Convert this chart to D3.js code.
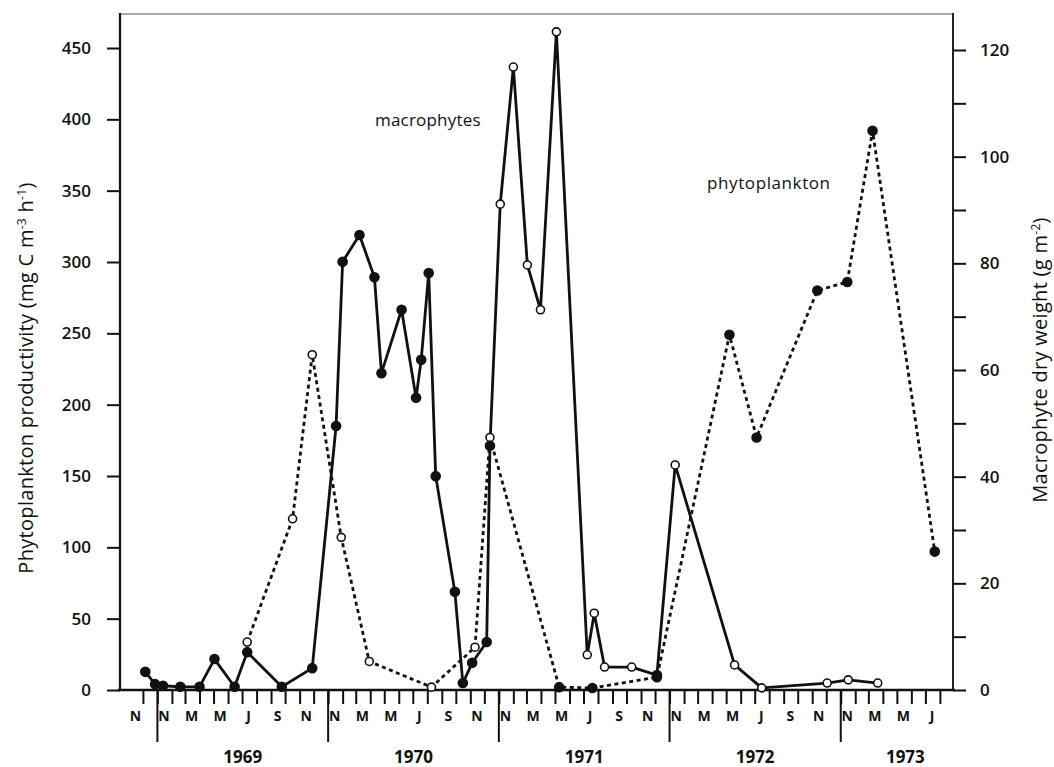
<!DOCTYPE html>
<meta charset="utf-8">
<script src="https://cdn.jsdelivr.net/npm/d3@7"></script>
<style>
  body { margin: 0; background: #fff; }
  text { font-family: "Open Sans", "Noto Sans", sans-serif; fill: #111; }
</style>
<div id="chart"></div>
<script>
// macrophyte dry weight (g m-2), right axis, solid line
var macroDates = ["1968-12-06","1968-12-27","1969-01-13","1969-02-19","1969-04-01","1969-05-03","1969-06-15","1969-07-12",
  "1969-09-24","1969-11-28","1970-01-18","1970-02-01","1970-03-09","1970-04-10","1970-04-25","1970-06-07","1970-07-08",
  "1970-07-19","1970-08-04","1970-08-19","1970-09-29","1970-10-16","1970-11-05","1970-12-06","1970-12-13","1971-01-04",
  "1971-02-01","1971-03-03","1971-03-31","1971-05-04","1971-07-09","1971-07-24","1971-08-15","1971-10-12","1971-12-05",
  "1972-01-13","1972-05-19","1972-07-16","1972-12-03","1973-01-17","1973-03-21"];
var macroValues = [3.4, 1.1, 0.8, 0.6, 0.6, 5.8, 0.6, 7.1,
  0.6, 4.1, 49.5, 80.3, 85.3, 77.4, 59.4, 71.3, 54.8,
  61.9, 78.2, 40.1, 18.4, 1.3, 5.1, 9.0, 45.8, 91.1,
  116.8, 79.7, 71.3, 123.4, 6.6, 14.4, 4.3, 4.3, 2.8,
  42.2, 4.7, 0.4, 1.3, 1.9, 1.3];
var macroMarks = ["f","f","f","f","f","f","f","f",
  "f","f","f","f","f","f","f","f","f",
  "f","f","f","f","f","f","f","f","o",
  "o","o","o","o","o","o","o","o","f",
  "o","o","o","o","o","o"];

// phytoplankton productivity (mg C m-3 h-1), left axis, dashed line
var phytoDates = ["1969-07-12","1969-10-17","1969-11-28","1970-01-29","1970-03-30","1970-08-10","1970-11-11","1970-12-13",
  "1971-05-10","1971-07-20","1971-12-05","1972-05-08","1972-07-05","1972-11-12","1973-01-15","1973-03-10","1973-07-21"];
var phytoValues = [33.6, 120, 235, 107, 20, 2, 30, 177, 2, 1.4, 9, 249, 177, 280, 286, 392, 97];
var phytoMarks = ["o","o","o","o","o","o","o","o","f","f","f","f","f","f","f","f","f"];

var leftTicks = [0, 50, 100, 150, 200, 250, 300, 350, 400, 450];
var rightTicks = [0, 10, 20, 30, 40, 50, 60, 70, 80, 90, 100, 110, 120];
var monthLetters = ["N", "", "M", "", "M", "", "J", "", "S", "", "N", ""];
var years = [1969, 1970, 1971, 1972, 1973];

var W = 1054, H = 767;
var svg = d3.select("#chart").append("svg").attr("width", W).attr("height", H);

var parse = d3.timeParse("%Y-%m-%d");
var start = new Date(1968, 9, 13), end = new Date(1973, 7, 29);
var x = d3.scaleTime().domain([start, end]).range([120, 953]);
var yL = d3.scaleLinear().domain([0, 450]).range([690, 48]);
var yR = d3.scaleLinear().domain([0, 120]).range([690, 50]);

// frame
svg.append("line").attr("x1", 120).attr("x2", 953).attr("y1", 14).attr("y2", 14)
  .attr("stroke", "#555").attr("stroke-width", 1.2);
svg.append("line").attr("x1", 120).attr("x2", 120).attr("y1", 13).attr("y2", 691)
  .attr("stroke", "#111").attr("stroke-width", 2.2);
svg.append("line").attr("x1", 953).attr("x2", 953).attr("y1", 13).attr("y2", 691)
  .attr("stroke", "#222").attr("stroke-width", 2);
svg.append("line").attr("x1", 118).attr("x2", 955).attr("y1", 690).attr("y2", 690)
  .attr("stroke", "#111").attr("stroke-width", 2.4);

// left axis
var gl = svg.append("g").attr("transform", "translate(120,0)")
  .call(d3.axisLeft(yL).tickValues(leftTicks).tickSize(13).tickPadding(16));
gl.select(".domain").remove();
gl.selectAll(".tick line").attr("stroke", "#111").attr("stroke-width", 2);
gl.selectAll(".tick text").style("font-size", "17px").style("font-weight", "600")
  .style("font-family", "Open Sans").attr("fill", "#111");

// right axis
var gr = svg.append("g").attr("transform", "translate(953,0)")
  .call(d3.axisRight(yR).tickValues(rightTicks).tickSize(13).tickPadding(14)
    .tickFormat(function(d) { return d % 20 === 0 ? d : ""; }));
gr.select(".domain").remove();
gr.selectAll(".tick line").attr("stroke", "#111").attr("stroke-width", 2);
gr.selectAll(".tick text").style("font-size", "17px").style("font-weight", "600")
  .style("font-family", "Open Sans").attr("fill", "#111");

// bottom axis: month ticks
var monthTicks = d3.timeMonth.range(new Date(1968, 11, 1), new Date(1973, 7, 2));
var gb = svg.append("g").attr("transform", "translate(0,690)")
  .call(d3.axisBottom(x).tickValues(monthTicks).tickSize(14).tickFormat(""));
gb.select(".domain").remove();
gb.selectAll(".tick line").attr("stroke", "#111").attr("stroke-width", 2);

// year separators
svg.selectAll(".sep").data(years).enter().append("line")
  .attr("x1", function(d) { return x(new Date(d, 0, 1)); })
  .attr("x2", function(d) { return x(new Date(d, 0, 1)); })
  .attr("y1", 690).attr("y2", 742)
  .attr("stroke", "#111").attr("stroke-width", 2);

// month letters at mid-month
var labelMonths = d3.timeMonth.range(new Date(1968, 10, 1), new Date(1973, 7, 1))
  .filter(function(d) { return monthLetters[d.getMonth()] !== ""; });
svg.selectAll(".mlab").data(labelMonths).enter().append("text")
  .attr("x", function(d) { return x(new Date(d.getFullYear(), d.getMonth(), 15)); })
  .attr("y", 721)
  .attr("text-anchor", "middle")
  .style("font-size", "14px").style("font-weight", "bold")
  .text(function(d) { return monthLetters[d.getMonth()]; });

// year labels
svg.selectAll(".ylab").data(years).enter().append("text")
  .attr("x", function(d) {
    var a = x(new Date(d, 0, 1)), b = Math.min(x(new Date(d + 1, 0, 1)), 970);
    return (a + b) / 2;
  })
  .attr("y", 763)
  .attr("text-anchor", "middle")
  .style("font-size", "17px").style("font-weight", "bold")
  .text(function(d) { return d; });

// axis titles
var lt = svg.append("text").attr("transform", "translate(33,378) rotate(-90)")
  .attr("text-anchor", "middle").style("font-size", "20px").style("letter-spacing", "0.3px");
lt.append("tspan").text("Phytoplankton productivity (mg C m");
lt.append("tspan").attr("dy", -7).style("font-size", "12px").text("-3");
lt.append("tspan").attr("dy", 7).text(" h");
lt.append("tspan").attr("dy", -7).style("font-size", "12px").text("-1");
lt.append("tspan").attr("dy", 7).text(")");

var rt = svg.append("text").attr("transform", "translate(1047,360) rotate(-90)")
  .attr("text-anchor", "middle").style("font-size", "20px").style("letter-spacing", "0.3px");
rt.append("tspan").text("Macrophyte dry weight (g m");
rt.append("tspan").attr("dy", -7).style("font-size", "12px").text("-2");
rt.append("tspan").attr("dy", 7).text(")");

// series
var macro = macroDates.map(function(d, i) { return {date: parse(d), v: macroValues[i], m: macroMarks[i]}; });
var phyto = phytoDates.map(function(d, i) { return {date: parse(d), v: phytoValues[i], m: phytoMarks[i]}; });

svg.append("path").datum(phyto)
  .attr("fill", "none").attr("stroke", "#111").attr("stroke-width", 2.8)
  .attr("stroke-dasharray", "4,3.5")
  .attr("d", d3.line().x(function(d) { return x(d.date); }).y(function(d) { return yL(d.v); }));

svg.append("path").datum(macro)
  .attr("fill", "none").attr("stroke", "#111").attr("stroke-width", 2.8)
  .attr("stroke-linejoin", "round")
  .attr("d", d3.line().x(function(d) { return x(d.date); }).y(function(d) { return yR(d.v); }));

function drawMarks(data, y) {
  svg.append("g").selectAll("circle").data(data).enter().append("circle")
    .attr("cx", function(d) { return x(d.date); })
    .attr("cy", function(d) { return y(d.v); })
    .attr("r", function(d) { return d.m === "f" ? 4.5 : 4; })
    .attr("fill", function(d) { return d.m === "f" ? "#111" : "#fff"; })
    .attr("stroke", "#111").attr("stroke-width", 1.6);
}
drawMarks(phyto, yL);
drawMarks(macro, yR);

// series labels
svg.append("text").attr("x", 375).attr("y", 126).style("font-size", "17px").style("letter-spacing", "0.2px").text("macrophytes");
svg.append("text").attr("x", 707).attr("y", 189).style("font-size", "17px").style("letter-spacing", "0.6px").text("phytoplankton");
</script>
